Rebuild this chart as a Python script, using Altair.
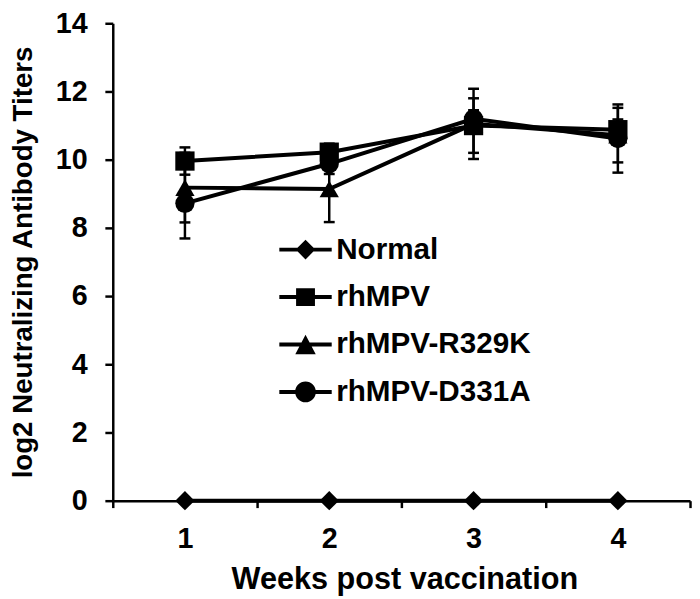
import altair as alt
import pandas as pd

# ---- data ----
weeks = [1, 2, 3, 4]
series_names = ["Normal", "rhMPV", "rhMPV-R329K", "rhMPV-D331A"]
normal_vals = [0, 0, 0, 0]
rhmpv_vals = [9.96, 10.22, 11.0, 10.88]
r329k_vals = [9.18, 9.14, 11.05, 10.72]
d331a_vals = [8.72, 9.88, 11.2, 10.62]
normal_err = [0, 0, 0, 0]
rhmpv_err = [0.4, 0.25, 0.8, 0.3]
r329k_err = [1.02, 0.97, 1.03, 0.8]
d331a_err = [1.03, 0.3, 0.25, 1.0]

x_ticks = [0.5, 1, 1.5, 2, 2.5, 3, 3.5, 4, 4.5]
y_ticks = [0, 2, 4, 6, 8, 10, 12, 14]

marker_shapes = ["diamond", "square", "triangle-up", "circle"]
bar = "M-2,-0.15H2V0.15H-2Z "
legend_paths = [
    bar + "M0,-0.75L0.75,0L0,0.75L-0.75,0Z",
    bar + "M-0.72,-0.68H0.72V0.68H-0.72Z",
    bar + "M0,-0.75L0.78,0.75L-0.78,0.75Z",
    bar + "M-0.79,0A0.79,0.79 0 1 1 0.79,0A0.79,0.79 0 1 1 -0.79,0Z",
]

vals = [normal_vals, rhmpv_vals, r329k_vals, d331a_vals]
errs = [normal_err, rhmpv_err, r329k_err, d331a_err]
rows = []
for name, v, e in zip(series_names, vals, errs):
    for w, vv, ee in zip(weeks, v, e):
        rows.append({"series": name, "week": w, "value": vv, "err": ee})
df = pd.DataFrame(rows)

FONT = "Liberation Sans"
X_TITLE = "Weeks post vaccination"
Y_TITLE = "log2 Neutralizing Antibody Titers"

x_scale = alt.Scale(domain=[0.5, 4.5], nice=False, zero=False)
y_scale = alt.Scale(domain=[0, 14], nice=False)

x_axis = alt.Axis(
    values=x_ticks,
    labelExpr="datum.value % 1 == 0 ? datum.value : ''",
    tickSize=7,
    tickOpacity={"condition": {"test": "datum.value % 1 == 0", "value": 0}, "value": 1},
    labelPadding=40,
    labelBaseline="alphabetic",
    labelFontSize=29,
    labelFlush=False,
    labelOverlap=False,
    titleFontSize=31,
    titleX=295,
    titleAlign="center",
    titleY=89,
    titleBaseline="alphabetic",
    grid=False,
)
y_axis = alt.Axis(
    values=y_ticks,
    tickSize=8,
    labelPadding=18,
    labelFontSize=29,
    labelFlush=False,
    titleFontSize=28,
    titleX=-82,
    titleBaseline="alphabetic",
    grid=False,
)


def X(field):
    return alt.X(field, type="quantitative", scale=x_scale, axis=x_axis, title=X_TITLE)


def Y(field):
    return alt.Y(field, type="quantitative", scale=y_scale, axis=y_axis, title=Y_TITLE)


base = alt.Chart(df)

lines = base.mark_line(color="black", strokeWidth=4).encode(
    x=X("week"), y=Y("value"), detail="series:N"
)

err_base = base.transform_filter("datum.err > 0").transform_calculate(
    lo="datum.value - datum.err", hi="datum.value + datum.err"
)
err_rule = err_base.mark_rule(color="black", strokeWidth=2.5).encode(
    x=X("week"), y=Y("lo"), y2="hi:Q"
)
cap_lo = err_base.mark_tick(orient="horizontal", size=11, thickness=2.5, color="black", opacity=1).encode(
    x=X("week"), y=Y("lo")
)
cap_hi = err_base.mark_tick(orient="horizontal", size=11, thickness=2.5, color="black", opacity=1).encode(
    x=X("week"), y=Y("hi")
)

points = base.mark_point(filled=True, color="black", size=380, opacity=1).encode(
    x=X("week"),
    y=Y("value"),
    shape=alt.Shape(
        "series:N",
        scale=alt.Scale(domain=series_names, range=marker_shapes),
        legend=None,
    ),
)

legend_layer = base.transform_filter("false").mark_point(
    filled=True, color="black", opacity=1
).encode(
    x=X("week"),
    y=Y("value"),
    shape=alt.Shape(
        "series:N",
        scale=alt.Scale(domain=series_names, range=legend_paths),
        legend=alt.Legend(
            title=None,
            orient="none",
            legendX=180,
            legendY=214,
            padding=0,
            symbolSize=702,
            symbolStrokeWidth=0,
            symbolFillColor="black",
            labelFont=FONT,
            labelFontWeight="bold",
            labelFontSize=30,
            labelColor="black",
            labelOffset=16,
            labelLimit=400,
            rowPadding=18,
        ),
    ),
)

chart = (
    alt.layer(lines, err_rule, cap_lo, cap_hi, points, legend_layer)
    .resolve_scale(shape="independent")
    .properties(
        width=584,
        height=483,
        autosize=alt.AutoSizeParams(type="none"),
        padding={"left": 106, "top": 12, "right": 2, "bottom": 95},
        background="white",
    )
    .configure_view(stroke=None)
    .configure_axis(
        domainColor="black",
        domainWidth=2.5,
        tickColor="black",
        tickWidth=2.5,
        labelFont=FONT,
        labelFontWeight="bold",
        labelColor="black",
        titleFont=FONT,
        titleFontWeight="bold",
        titleColor="black",
    )
)

chart.save("out.html", embed_options={"renderer": "svg", "actions": False})
